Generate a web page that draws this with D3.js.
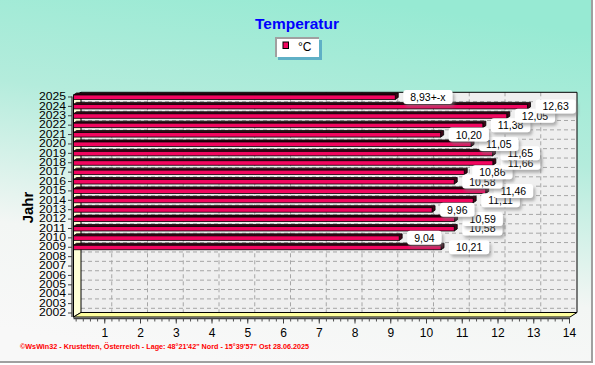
<!DOCTYPE html>
<html>
<head>
<meta charset="utf-8">
<script src="https://cdn.jsdelivr.net/npm/d3@7"></script>
<style>
	body { margin: 0; background: #fff; }
	svg { display: block; }
	text { font-family: "Liberation Sans", Arial, sans-serif; }
</style>
</head>
<body>
<svg id="chart" width="595" height="365"></svg>
<script>
'use strict'

// data
const years = [2002, 2003, 2004, 2005, 2006, 2007, 2008, 2009, 2010, 2011, 2012, 2013,
	2014, 2015, 2016, 2017, 2018, 2019, 2020, 2021, 2022, 2023, 2024, 2025]
const temps = [null, null, null, null, null, null, null, 10.21, 9.04, 10.58, 10.59, 9.96,
	11.11, 11.46, 10.58, 10.86, 11.66, 11.65, 11.05, 10.20, 11.38, 12.05, 12.63, 8.93]
const labelSuffix = {2025: '+-x'}
const xTicks = [1, 2, 3, 4, 5, 6, 7, 8, 9, 10, 11, 12, 13, 14]
const title = 'Temperatur'
const seriesName = '°C'
const yTitle = 'Jahr'
const footer = '©WsWin32 - Krustetten, Österreich - Lage: 48°21\'42" Nord - 15°39\'57" Ost  28.06.2025'

const rows = years.map((year, i) => ({year, value: temps[i]}))

const svg = d3.select('#chart')
const defs = svg.append('defs')

const bg = defs.append('linearGradient')
	.attr('id', 'bg')
	.attr('x1', 0.62).attr('y1', 0)
	.attr('x2', 0.38).attr('y2', 1)
bg.append('stop').attr('offset', 0).attr('stop-color', '#97ead3')
bg.append('stop').attr('offset', 0.35).attr('stop-color', '#b4ecdc')
bg.append('stop').attr('offset', 0.72).attr('stop-color', '#f3f6f4')
bg.append('stop').attr('offset', 1).attr('stop-color', '#f8f8f8')

const shadow = defs.append('filter').attr('id', 'shadow')
	.attr('x', -0.2).attr('y', -0.3).attr('width', 1.5).attr('height', 1.8)
shadow.append('feDropShadow')
	.attr('dx', 2).attr('dy', 3).attr('stdDeviation', 1.4)
	.attr('flood-color', '#7a7a7a').attr('flood-opacity', 0.55)

// background and frame
svg.append('rect').attr('width', 592).attr('height', 362).attr('fill', 'url(#bg)')
svg.append('path').attr('d', 'M592,0V362H0')
	.attr('fill', 'none').attr('stroke', '#a0a0a0').attr('stroke-width', 2)

// scales: back wall and front edge of the 3d box
const xBack = d3.scaleLinear().domain([0, 14]).range([76, 576.5])
const xFront = d3.scaleLinear().domain([0, 14]).range([68.5, 569])
const y = d3.scaleBand().domain(years.slice().reverse()).range([92.3, 317.7])
const step = y.step()
const mid = (yr) => y(yr) + step / 2

const wall = {left: 81, right: 577, top: 92.3, bottom: 312.5}
const front = {left: 73.5, right: 570, top: 96.5, bottom: 317}

// back wall
svg.append('rect')
	.attr('x', wall.left).attr('y', wall.top)
	.attr('width', wall.right - wall.left).attr('height', wall.bottom - wall.top)
	.attr('fill', '#efefef')

const grid = svg.append('g')
	.attr('stroke', '#a6a6a6').attr('stroke-dasharray', '4,3').attr('stroke-width', 1)
grid.selectAll('.vgrid')
	.data(xTicks.slice(0, -1))
	.enter().append('line')
	.attr('x1', (d) => xBack(d)).attr('x2', (d) => xBack(d))
	.attr('y1', wall.top).attr('y2', wall.bottom)
grid.selectAll('.hgrid')
	.data(years.slice(1))
	.enter().append('line')
	.attr('x1', wall.left).attr('x2', wall.right)
	.attr('y1', (d) => y(d) + step).attr('y2', (d) => y(d) + step)

svg.append('path')
	.attr('d', `M${wall.left},${wall.top}H${wall.right}V${wall.bottom}`)
	.attr('fill', 'none').attr('stroke', '#000')

// left wall and floor
svg.append('path')
	.attr('d', `M${front.left},${front.top}L${wall.left},${wall.top}V${wall.bottom}L${front.left},${front.bottom}Z`)
	.attr('fill', '#ffffd6').attr('stroke', '#000')
svg.append('path')
	.attr('d', `M${front.left},${front.bottom}L${wall.left},${wall.bottom}H${wall.right}L${front.right},${front.bottom}Z`)
	.attr('fill', '#ffff9e').attr('stroke', '#000')

// bars
const dx = 3
const dy = 2
const bars = svg.append('g').selectAll('.bar')
	.data(rows.filter((d) => d.value !== null))
	.enter().append('g')
	.attr('class', 'bar')

bars.append('path')
	.attr('d', (d) => {
		const c = mid(d.year)
		const x1 = xBack(d.value)
		return `M${front.left},${c - 2}L${front.left + dx},${c - 2 - dy}H${x1 + dx}V${c + 2.5 - dy}L${x1},${c + 2.5}V${c - 2}Z`
	})
	.attr('fill', '#3c0616').attr('stroke', '#000').attr('stroke-width', 0.8)
bars.append('rect')
	.attr('x', front.left)
	.attr('y', (d) => mid(d.year) - 2)
	.attr('width', (d) => xBack(d.value) - front.left)
	.attr('height', 4.5)
	.attr('fill', '#f2065f').attr('stroke', '#000').attr('stroke-width', 0.8)

// value labels, lower years first so upper boxes lie on top
const fmt = (d) => d3.format('.2f')(d.value).replace('.', ',') + (labelSuffix[d.year] || '')
const labels = svg.append('g').selectAll('.vlabel')
	.data(rows.filter((d) => d.value !== null))
	.enter().append('g')
	.attr('class', 'vlabel')
	.attr('transform', (d) => `translate(${xBack(d.value) + dx + 5}, ${mid(d.year)})`)

labels.append('text')
	.attr('x', 7).attr('y', 4)
	.attr('font-size', 10.5)
	.attr('fill', '#000')
	.text(fmt)
labels.each(function() {
	const g = d3.select(this)
	const w = g.select('text').node().getComputedTextLength()
	g.insert('rect', 'text')
		.attr('x', 0).attr('y', -7)
		.attr('width', w + 14).attr('height', 14)
		.attr('rx', 3)
		.attr('fill', '#fff')
		.attr('filter', 'url(#shadow)')
})

// y axis (years)
const yAxis = svg.append('g')
	.attr('transform', 'translate(72,0)')
	.call(d3.axisLeft(y).tickSize(4).tickPadding(2))
yAxis.select('.domain')
	.attr('d', `M0,${front.top}V${front.bottom}`)
	.attr('stroke', '#505050').attr('stroke-width', 1.5)
yAxis.selectAll('.tick line').attr('stroke', '#404040')
yAxis.selectAll('.tick text')
	.attr('font-size', 10)
	.attr('font-family', '"Liberation Sans", Arial, sans-serif')
	.attr('fill', '#000')
	.attr('textLength', 27)
	.attr('lengthAdjust', 'spacingAndGlyphs')

// x axis: minor ticks then major ticks with labels
const minor = []
for (let v = 1; v <= 70; v++)
	minor.push(v / 5)
const xMinor = svg.append('g')
	.attr('transform', `translate(0,${front.bottom + 1.5})`)
	.call(d3.axisBottom(xFront).tickValues(minor).tickSize(3).tickFormat(''))
xMinor.select('.domain')
	.attr('d', `M${front.left},0H${front.right}`)
	.attr('stroke', '#404040').attr('stroke-width', 1.5)
xMinor.selectAll('.tick line').attr('stroke', '#505050')

const xAxis = svg.append('g')
	.attr('transform', `translate(0,${front.bottom + 1.5})`)
	.call(d3.axisBottom(xFront).tickValues(xTicks).tickSize(5).tickPadding(5))
xAxis.select('.domain').remove()
xAxis.selectAll('.tick line').attr('stroke', '#404040')
xAxis.selectAll('.tick text')
	.attr('font-size', 12)
	.attr('font-family', '"Liberation Sans", Arial, sans-serif')
	.attr('fill', '#000')

// axis title
svg.append('text')
	.attr('transform', 'translate(32.5,207.5) rotate(-90)')
	.attr('text-anchor', 'middle')
	.attr('font-family', '"DejaVu Sans", sans-serif')
	.attr('font-weight', 'bold')
	.attr('font-size', 15)
	.attr('textLength', 31.5)
	.attr('lengthAdjust', 'spacingAndGlyphs')
	.attr('fill', '#000')
	.text(yTitle)

// title
svg.append('text')
	.attr('x', 297).attr('y', 29)
	.attr('text-anchor', 'middle')
	.attr('font-family', '"DejaVu Sans", sans-serif')
	.attr('font-weight', 'bold')
	.attr('font-size', 14.5)
	.attr('textLength', 84)
	.attr('lengthAdjust', 'spacingAndGlyphs')
	.attr('fill', '#0000ff')
	.text(title)

// legend
const legend = svg.append('g').attr('transform', 'translate(275,37)')
legend.append('rect')
	.attr('x', 3).attr('y', 3).attr('width', 44).attr('height', 20)
	.attr('fill', '#5fb0c6')
legend.append('rect')
	.attr('width', 44).attr('height', 20)
	.attr('fill', '#fff')
legend.append('path')
	.attr('d', 'M1,20V1H44')
	.attr('fill', 'none').attr('stroke', '#a0a0a0').attr('stroke-width', 2)
legend.append('rect')
	.attr('x', 8).attr('y', 5).attr('width', 5.5).attr('height', 6.5)
	.attr('fill', '#f2065f').attr('stroke', '#000')
legend.append('text')
	.attr('x', 23).attr('y', 14)
	.attr('font-size', 12)
	.attr('fill', '#000')
	.text(seriesName)

// footer
svg.append('text')
	.attr('x', 20).attr('y', 348.5)
	.attr('font-family', '"DejaVu Sans", sans-serif')
	.attr('font-weight', 'bold')
	.attr('font-size', 6.5)
	.attr('fill', '#ff0000')
	.attr('textLength', 289)
	.attr('lengthAdjust', 'spacingAndGlyphs')
	.text(footer)
</script>
</body>
</html>
